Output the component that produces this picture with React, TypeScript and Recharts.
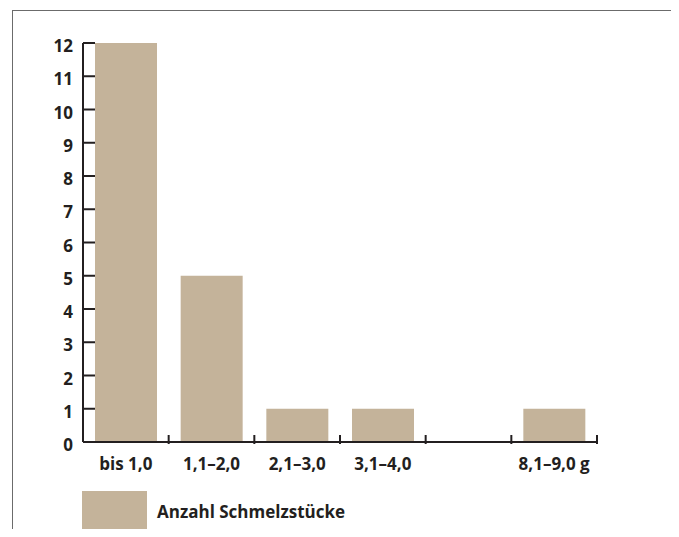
import { BarChart, Bar, XAxis, YAxis } from "recharts";

const categories = ["bis 1,0", "1,1–2,0", "2,1–3,0", "3,1–4,0", "", "8,1–9,0 g"];
const counts = [12, 5, 1, 1, 0, 1];
const yTicks = [0, 1, 2, 3, 4, 5, 6, 7, 8, 9, 10, 11, 12];
const legendLabel = "Anzahl Schmelzstücke";

const data = categories.map((name, i) => ({ name, count: counts[i] }));

const W = 679;
const H = 537;
const margin = { top: 43, right: 82, bottom: 65, left: 0 };
const yAxisWidth = 83;
const ink = "#231f20";
const barColor = "#c4b39a";
const font = "'Open Sans', sans-serif";
const step = (W - margin.left - yAxisWidth - margin.right) / categories.length;

const YTick = (props: any) => {
  const { x, y, payload } = props;
  return (
    <g>
      <line x1={x + 10} x2={x + 22} y1={y} y2={y} stroke={ink} strokeWidth={2} />
      <text x={x} y={y + 3} dy="0.36em" textAnchor="end" fill={ink} fontSize={17} fontWeight={700} fontFamily={font}>
        {payload.value}
      </text>
    </g>
  );
};

const XTick = (props: any) => {
  const { x, y, payload } = props;
  return (
    <g>
      <line x1={x + step / 2} x2={x + step / 2} y1={y} y2={y - 9} stroke={ink} strokeWidth={2} />
      <text x={x} y={y + 26} textAnchor="middle" fill={ink} fontSize={17} fontWeight={700} fontFamily={font}>
        {payload.value}
      </text>
    </g>
  );
};

export default function App() {
  return (
    <div style={{ position: "relative", width: W, height: H, margin: -8, overflow: "hidden", background: "#fff" }}>
      <div
        style={{
          position: "absolute",
          left: 12,
          top: 10,
          width: 662,
          height: 600,
          border: "1px solid #6b6b6b",
        }}
      />
      <div style={{ position: "absolute", left: 0, top: 0 }}>
        <BarChart width={W} height={H} data={data} margin={margin}>
          <XAxis
            dataKey="name"
            interval={0}
            tickLine={false}
            tickSize={0}
            height={30}
            axisLine={{ stroke: ink, strokeWidth: 2 }}
            tick={<XTick />}
          />
          <YAxis
            width={yAxisWidth}
            domain={[0, 12]}
            ticks={yTicks}
            interval={0}
            tickLine={false}
            tickSize={0}
            tickMargin={10}
            axisLine={{ stroke: ink, strokeWidth: 2 }}
            tick={<YTick />}
          />
          <Bar dataKey="count" fill={barColor} barSize={62} isAnimationActive={false} />
        </BarChart>
      </div>
      <div style={{ position: "absolute", left: 82, top: 491, display: "flex", alignItems: "center" }}>
        <div style={{ width: 65, height: 41, background: barColor }} />
        <span style={{ marginLeft: 10, fontFamily: font, fontWeight: 700, fontSize: 17, color: ink }}>
          {legendLabel}
        </span>
      </div>
    </div>
  );
}
